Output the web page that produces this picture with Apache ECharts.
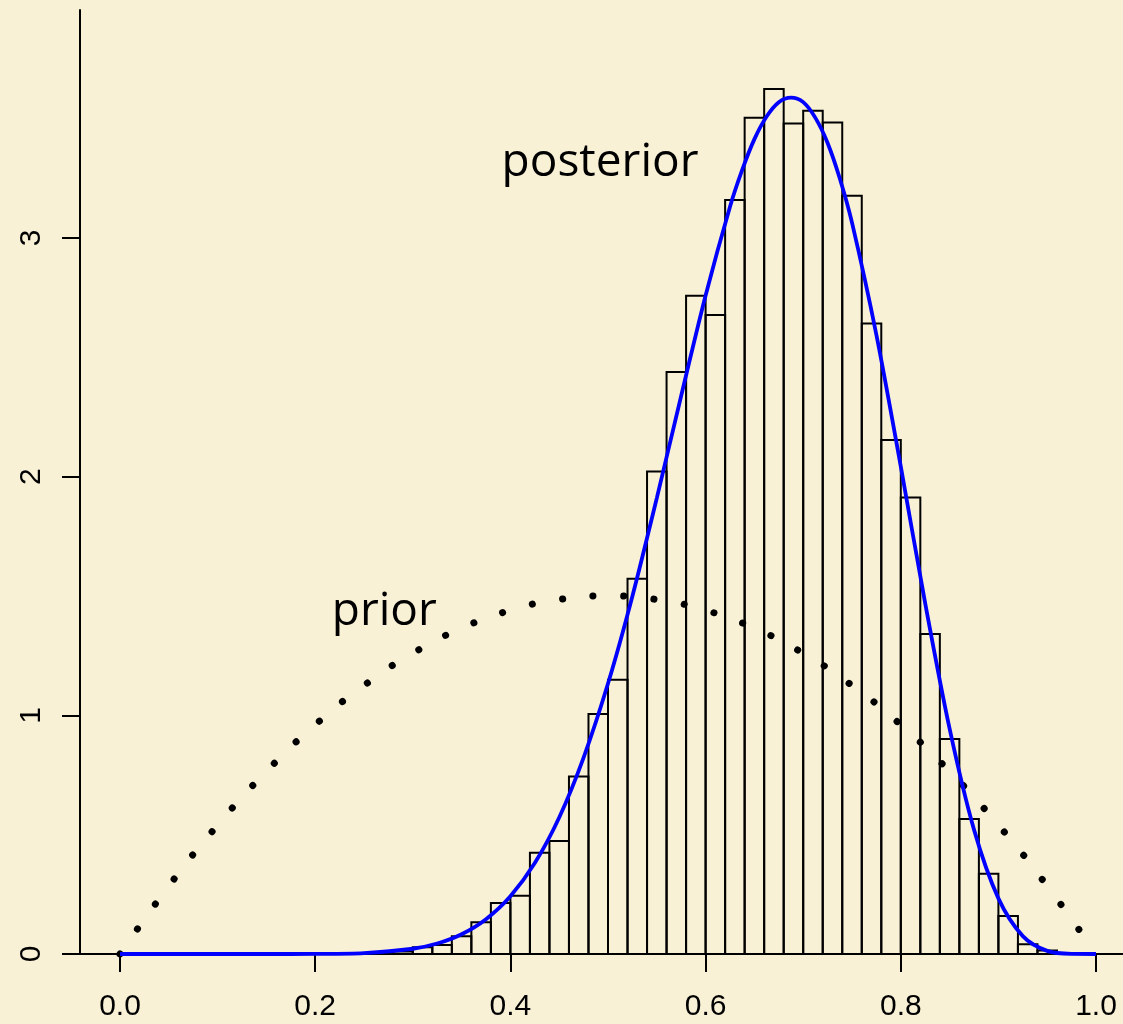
<!DOCTYPE html>
<html>
<head>
<meta charset="utf-8">
<title>prior / posterior</title>
<script src="https://cdn.jsdelivr.net/npm/echarts@6/dist/echarts.min.js"></script>
<style>
  html, body { margin: 0; padding: 0; background: #f9f1d6; }
  #main { width: 1123px; height: 1024px; }
</style>
</head>
<body>
<div id="main"></div>
<script>
// histogram: left edge of each bin (width 0.02) and its density
const binStart = [0.26, 0.28, 0.30, 0.32, 0.34, 0.36, 0.38, 0.40, 0.42, 0.44,
  0.46, 0.48, 0.50, 0.52, 0.54, 0.56, 0.58, 0.60, 0.62, 0.64, 0.66, 0.68,
  0.70, 0.72, 0.74, 0.76, 0.78, 0.80, 0.82, 0.84, 0.86, 0.88, 0.90, 0.92, 0.94];
const binDensity = [0.004, 0.010, 0.028, 0.038, 0.074, 0.133, 0.214, 0.244, 0.424, 0.473,
  0.744, 1.005, 1.149, 1.572, 2.022, 2.438, 2.758, 2.677, 3.159, 3.504, 3.624, 3.480,
  3.533, 3.484, 3.177, 2.642, 2.153, 1.913, 1.341, 0.901, 0.566, 0.336, 0.159, 0.041, 0.015];
const binWidth = 0.02;

// posterior curve (blue)
const postX = [0, 0.05, 0.1, 0.15, 0.2, 0.25, 0.3, 0.325, 0.35, 0.375, 0.4, 0.425,
  0.45, 0.475, 0.5, 0.525, 0.55, 0.575, 0.6, 0.625, 0.6375, 0.65, 0.6625, 0.675,
  0.6875, 0.7, 0.7125, 0.725, 0.7375, 0.75, 0.775, 0.8, 0.825, 0.85, 0.875, 0.9,
  0.925, 0.95, 0.975, 1.0];
const postY = [0, 0, 0, 0, 0.0005, 0.004, 0.022, 0.044, 0.083, 0.146, 0.242, 0.381,
  0.572, 0.823, 1.133, 1.499, 1.910, 2.339, 2.759, 3.131, 3.285, 3.414, 3.509, 3.569,
  3.588, 3.569, 3.503, 3.398, 3.249, 3.064, 2.594, 2.042, 1.469, 0.944, 0.521, 0.233,
  0.075, 0.013, 0.0005, 0];

// prior curve (dotted)
const priorX = [0, 0.05, 0.1, 0.15, 0.2, 0.25, 0.3, 0.35, 0.4, 0.45, 0.5,
  0.55, 0.6, 0.65, 0.7, 0.75, 0.8, 0.85, 0.9, 0.95, 1.0];
const priorY = [0, 0.285, 0.54, 0.765, 0.96, 1.125, 1.26, 1.365, 1.44, 1.485, 1.5,
  1.485, 1.44, 1.365, 1.26, 1.125, 0.96, 0.765, 0.54, 0.285, 0];

const xTicks = [0, 0.2, 0.4, 0.6, 0.8, 1.0];
const yTicks = [0, 1, 2, 3];

const zip = (a, b) => a.map((v, i) => [v, b[i]]);

const chart = echarts.init(document.getElementById("main"));
const option = {
  backgroundColor: "#f9f1d6",
  animation: false,
  grid: { left: 80, right: 0, top: 10, bottom: 70 },
  xAxis: {
    type: "value",
    min: -0.04098,
    max: 1.02766,
    splitLine: { show: false },
    axisLine: { show: true, onZero: false, lineStyle: { color: "#000", width: 2 } },
    axisTick: {
      show: true,
      customValues: xTicks,
      length: 18,
      lineStyle: { color: "#000", width: 2 }
    },
    axisLabel: {
      customValues: xTicks,
      formatter: v => v.toFixed(1),
      color: "#000",
      fontFamily: "Liberation Sans",
      fontSize: 30,
      margin: 38
    }
  },
  yAxis: {
    type: "value",
    min: 0,
    max: 3.955,
    splitLine: { show: false },
    axisLine: { show: true, onZero: false, lineStyle: { color: "#000", width: 2 } },
    axisTick: {
      show: true,
      customValues: yTicks,
      length: 18,
      lineStyle: { color: "#000", width: 2 }
    },
    axisLabel: {
      customValues: yTicks,
      rotate: 90,
      color: "#000",
      fontFamily: "Liberation Sans",
      fontSize: 30,
      margin: 33
    }
  },
  series: [
    {
      type: "custom",
      name: "hist",
      z: 1,
      data: binStart.map((s, i) => [s, s + binWidth, binDensity[i]]),
      renderItem(params, api) {
        const p0 = api.coord([api.value(0), api.value(2)]);
        const p1 = api.coord([api.value(1), 0]);
        return {
          type: "rect",
          shape: { x: p0[0], y: p0[1], width: p1[0] - p0[0], height: p1[1] - p0[1] },
          style: { fill: "none", stroke: "#000", lineWidth: 2 }
        };
      }
    },
    {
      type: "line",
      name: "prior",
      z: 3,
      data: zip(priorX, priorY),
      smooth: true,
      showSymbol: false,
      lineStyle: { color: "#000", width: 7, type: [0.1, 30.6], cap: "round" }
    },
    {
      type: "line",
      name: "posterior",
      z: 4,
      data: zip(postX, postY),
      smooth: 0.3,
      showSymbol: false,
      lineStyle: { color: "#0000ff", width: 3.8 }
    },
    {
      type: "scatter",
      z: 5,
      symbolSize: 0,
      silent: true,
      itemStyle: { opacity: 1 },
      data: [
        { name: "posterior", value: [0.391, 3.315] },
        { name: "prior", value: [0.217, 1.435] }
      ],
      label: {
        show: true,
        position: "inside",
        formatter: "{b}",
        align: "left",
        verticalAlign: "middle",
        color: "#000",
        opacity: 1,
        fontFamily: "Open Sans",
        fontSize: 46
      }
    }
  ]
};
chart.setOption(option);
</script>
</body>
</html>
